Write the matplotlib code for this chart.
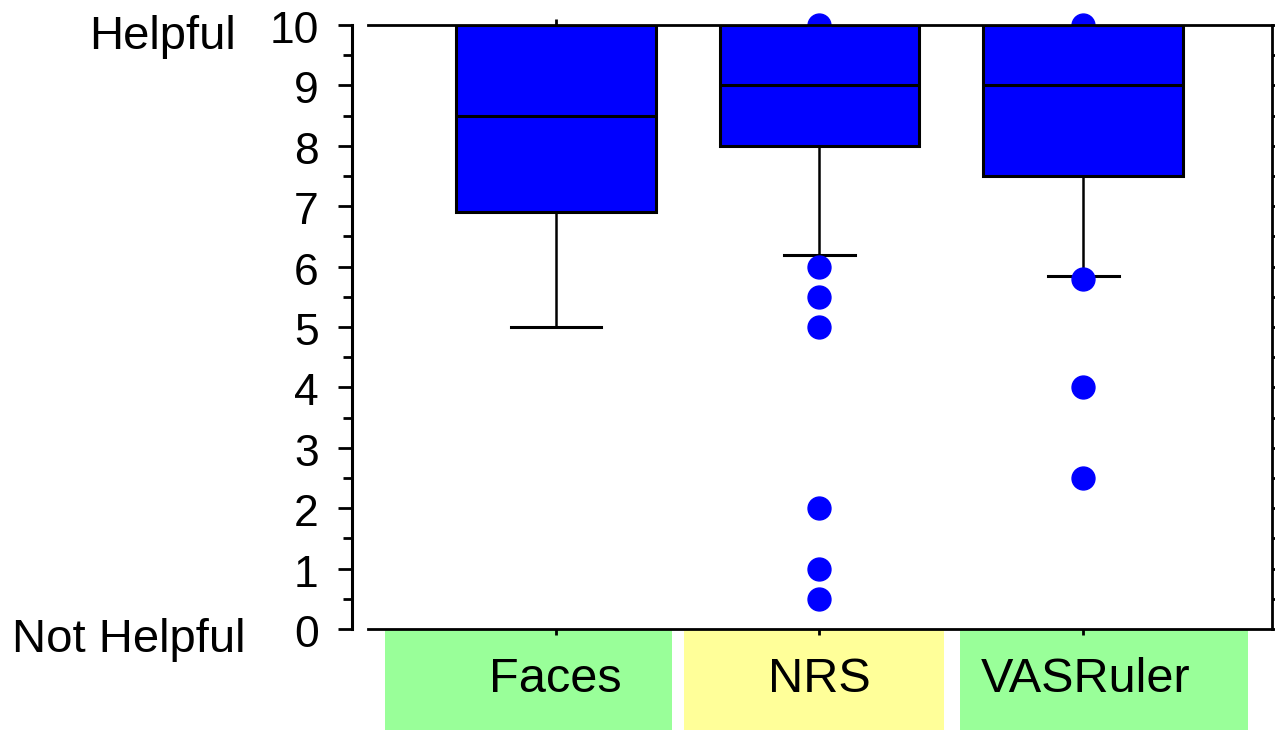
import matplotlib
matplotlib.use("Agg")
import matplotlib.pyplot as plt
from matplotlib.patches import Rectangle
import matplotlib.transforms as mtransforms

plt.rcParams['font.family'] = ['Liberation Sans', 'DejaVu Sans']

categories = ["Faces", "NRS", "VASRuler"]
q1 = [6.9, 8.0, 7.5]
medians = [8.5, 9.0, 9.0]
q3 = [10.0, 10.0, 10.0]
whisker_low = [5.0, 6.2, 5.85]
whisker_high = [10.0, 10.0, 10.0]
outliers = [[], [10.0, 6.0, 5.5, 5.0, 2.0, 1.0, 0.5], [10.0, 5.8, 4.0, 2.5]]
label_colors = ["#99FF99", "#FFFF99", "#99FF99"]
y_ticks = [0, 1, 2, 3, 4, 5, 6, 7, 8, 9, 10]

fig = plt.figure(figsize=(12.75, 7.3), dpi=100)
ax = fig.add_axes([368/1275, 101/730, 904/1275, 604/730])

stats = []
for i, c in enumerate(categories):
    stats.append(dict(label=c, q1=q1[i], med=medians[i], q3=q3[i],
                      whislo=whisker_low[i], whishi=whisker_high[i],
                      fliers=outliers[i]))

positions = [1, 2, 3]
ax.bxp(stats, positions=positions, widths=0.757, patch_artist=True,
       capwidths=[0.34, 0.27, 0.27],
       boxprops=dict(facecolor="#0000FF", edgecolor="black", linewidth=2.2),
       medianprops=dict(color="black", linewidth=2.2),
       whiskerprops=dict(color="black", linewidth=1.8),
       capprops=dict(color="black", linewidth=2.2),
       flierprops=dict(marker="o", markerfacecolor="#0000FF", markeredgecolor="#0000FF",
                       markersize=16.5, linestyle="none", clip_on=False))

ax.set_xlim(0.288, 3.716)
ax.set_ylim(0, 10)

ax.spines['left'].set_position(('outward', 11.5))
for s in ['top', 'bottom', 'right']:
    ax.spines[s].set_linewidth(2.0)
ax.spines['left'].set_linewidth(2.2)

ax.set_yticks(y_ticks)
ax.set_yticklabels([str(v) for v in y_ticks], fontsize=32)
ax.set_yticks([v + 0.5 for v in y_ticks[:-1]], minor=True)
ax.tick_params(axis='y', which='major', direction='out', length=10, width=2, pad=14,
               right=True)
ax.tick_params(axis='y', which='minor', direction='out', length=6.5, width=2, right=True)
for t in ax.yaxis.get_major_ticks():
    t.tick2line.set_markersize(2.5)
for t in ax.yaxis.get_minor_ticks():
    t.tick2line.set_markersize(2.5)
for lbl in ax.get_yticklabels():
    lbl.set_transform(lbl.get_transform() + mtransforms.ScaledTranslation(0, -1.5/72, fig.dpi_scale_trans))

ax.set_xticks(positions)
ax.set_xticklabels([])
ax.tick_params(axis='x', which='major', direction='out', length=4, width=2, top=True)

trans = mtransforms.blended_transform_factory(ax.transData, ax.transAxes)
rect_edges = [(0.352, 1.439), (1.485, 2.473), (2.534, 3.625)]
label_centers = [1.0, 2.0, 3.01]
for i, c in enumerate(categories):
    x0, x1 = rect_edges[i]
    ax.add_patch(Rectangle((x0, -0.168), x1 - x0, 0.168, transform=trans,
                           facecolor=label_colors[i], edgecolor="none",
                           clip_on=False, zorder=0))
    ax.text(label_centers[i], -0.083, c, transform=trans, ha='center', va='center',
            fontsize=35)

fig.text(236/1275, 1 - 37/730, "Helpful", ha='right', va='center', fontsize=34)
fig.text(246/1275, 1 - 640/730, "Not Helpful", ha='right', va='center', fontsize=34)

fig.savefig("out.png", dpi=100)
